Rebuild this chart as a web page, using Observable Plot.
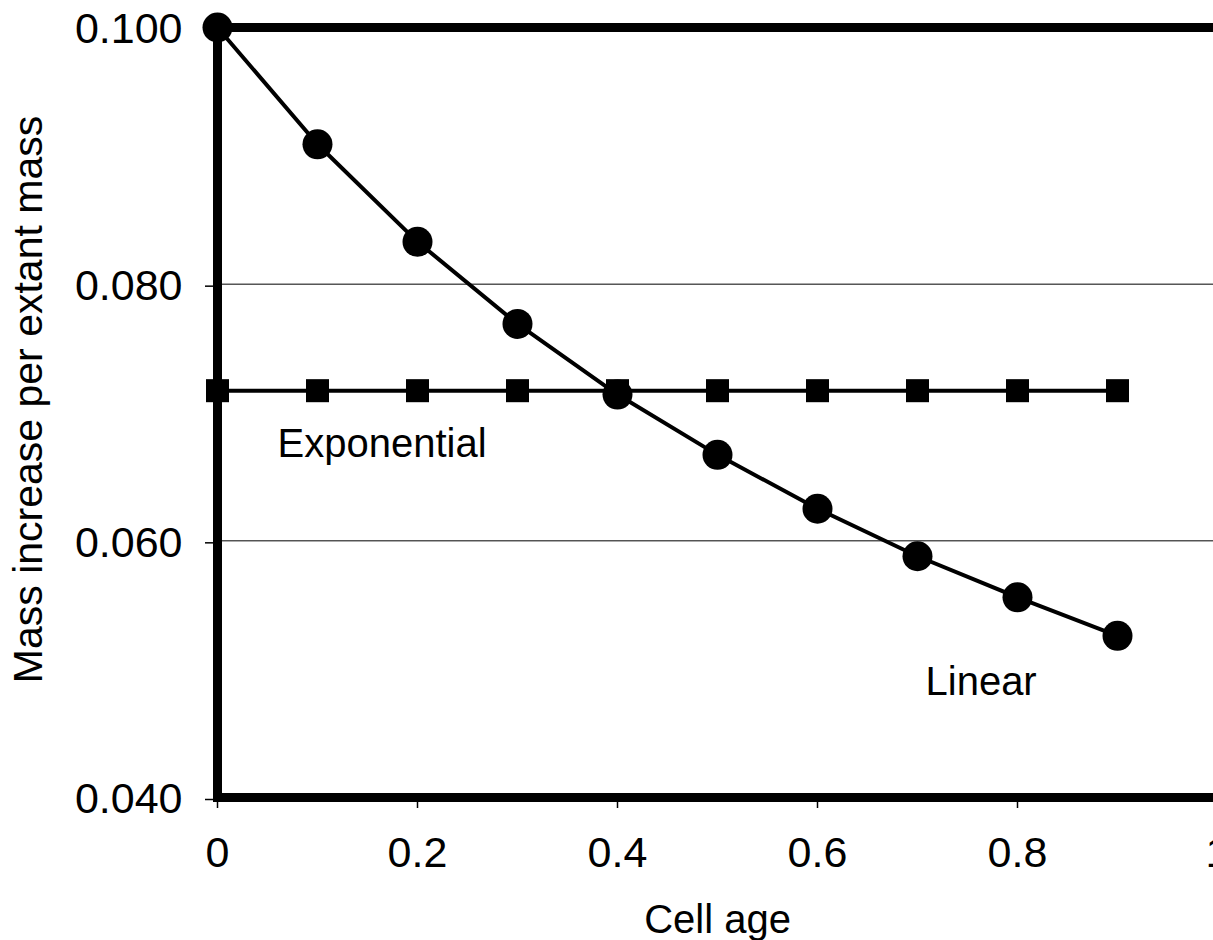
<!DOCTYPE html>
<html>
<head>
<meta charset="utf-8">
<script src="https://cdn.jsdelivr.net/npm/d3@7"></script>
<script src="https://cdn.jsdelivr.net/npm/@observablehq/plot@0.6"></script>
<style>
  html, body { margin: 0; padding: 0; background: white; overflow: hidden; }
</style>
</head>
<body>
<div id="chart"></div>
<script>
// Data
const cellAge = [0, 0.1, 0.2, 0.3, 0.4, 0.5, 0.6, 0.7, 0.8, 0.9];
const linearValues = [0.1000, 0.0909, 0.0833, 0.0769, 0.0714, 0.0667, 0.0625, 0.0588, 0.0556, 0.0526];
const exponentialValues = [0.0717, 0.0717, 0.0717, 0.0717, 0.0717, 0.0717, 0.0717, 0.0717, 0.0717, 0.0717];
const xTicks = [0, 0.2, 0.4, 0.6, 0.8, 1];
const yTicks = [0.04, 0.06, 0.08, 0.1];
const gridValues = [0.06, 0.08];
const seriesLabels = [
  {text: "Exponential", x: 0.06, y: 0.0675},
  {text: "Linear", x: 0.708, y: 0.0490}
];
const xTitle = "Cell age";
const yTitle = "Mass increase per extant mass";

const linear = cellAge.map((x, i) => ({x, y: linearValues[i]}));
const exponential = cellAge.map((x, i) => ({x, y: exponentialValues[i]}));

const chart = Plot.plot({
  width: 1240,
  height: 940,
  marginLeft: 217,
  marginRight: 23,
  marginTop: 27,
  marginBottom: 143,
  style: {background: "white", fontFamily: "'Liberation Sans', Arial, sans-serif", fontSize: "43px", color: "black", maxWidth: "none"},
  x: {domain: [0, 1]},
  y: {domain: [0.04, 0.1]},
  marks: [
    Plot.ruleY(gridValues, {stroke: "black", strokeWidth: 1}),
    Plot.axisX({ticks: xTicks, tickFormat: d3.format("~g"), tickSize: 11, tickPadding: 28, fontSize: 43, strokeWidth: 1.5, label: null}),
    Plot.axisY({ticks: yTicks, tickFormat: d3.format(".3f"), tickSize: 12, tickPadding: 23, fontSize: 43, strokeWidth: 1.5, dy: 2, label: null}),
    Plot.frame({stroke: "black", strokeWidth: 9}),
    Plot.line(exponential, {x: "x", y: "y", stroke: "black", strokeWidth: 4}),
    Plot.dot(exponential, {x: "x", y: "y", symbol: "square", r: 13, fill: "black", stroke: "none"}),
    Plot.line(linear, {x: "x", y: "y", stroke: "black", strokeWidth: 4}),
    Plot.dot(linear, {x: "x", y: "y", r: 15, fill: "black", stroke: "none"}),
    Plot.text(seriesLabels, {x: "x", y: "y", text: "text", textAnchor: "start", lineAnchor: "middle", fontSize: 40, fill: "black"}),
    Plot.text([xTitle], {frameAnchor: "bottom", textAnchor: "middle", lineAnchor: "middle", dy: 123, fontSize: 40, fill: "black"}),
    Plot.text([yTitle], {frameAnchor: "left", textAnchor: "middle", lineAnchor: "middle", rotate: -90, dx: -189, dy: -13, fontSize: 41, fill: "black"})
  ]
});
document.getElementById("chart").appendChild(chart);
</script>
</body>
</html>
